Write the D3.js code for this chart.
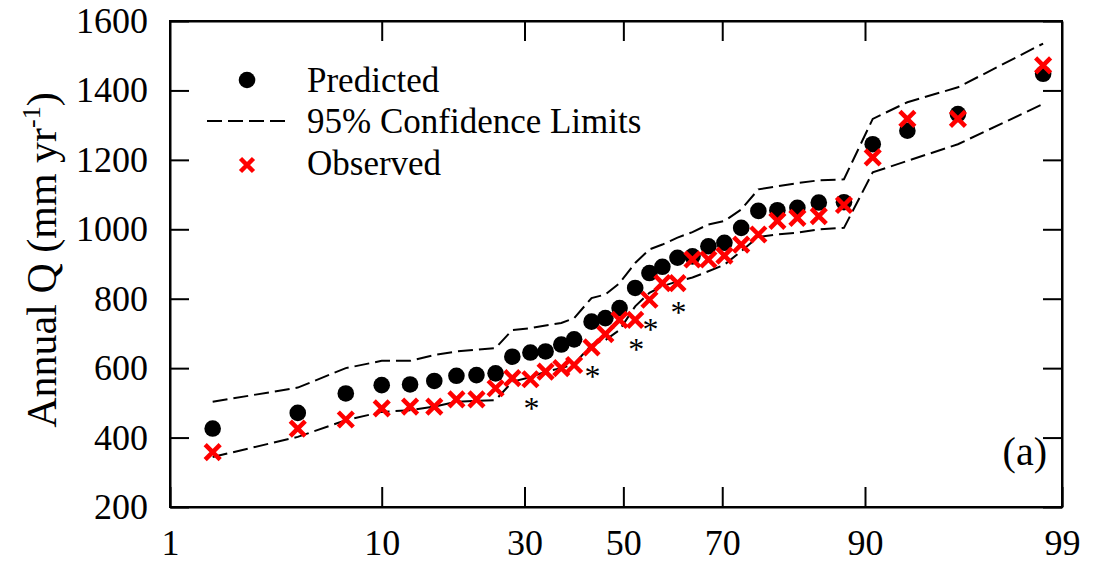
<!DOCTYPE html>
<html>
<head>
<meta charset="utf-8">
<script src="https://cdn.jsdelivr.net/npm/d3@7"></script>
<style>
  body { margin: 0; background: #fff; }
  svg { display: block; }
  text { font-family: "Liberation Serif", "Times New Roman", serif; fill: #000; }
</style>
</head>
<body>
<div id="chart"></div>
<script>
// exceedance probability (%) of each ranked year
const xPct = [1.47, 4.21, 7.05, 10.0, 12.9, 15.8, 18.8, 21.8, 24.9, 27.8,
              31.1, 34.0, 37.1, 39.7, 43.3, 46.2, 49.2, 52.5, 55.5, 58.2,
              61.3, 64.3, 67.4, 70.4, 73.4, 76.3, 79.3, 82.2, 85.0, 87.9,
              90.7, 93.4, 96.2, 98.7];
const predicted = [426, 471, 527, 551, 553, 563, 578, 580, 585, 633,
                   645, 648, 668, 683, 734, 744, 773, 831, 874, 892,
                   918, 922, 951, 961, 1004, 1053, 1055, 1062, 1077, 1078,
                   1245, 1284, 1332, 1448];
const observed = [358, 426, 452, 484, 489, 489, 510, 510, 542, 571,
                  568, 590, 600, 609, 660, 698, 739, 739, 797, 845,
                  845, 913, 913, 924, 956, 985, 1024, 1033, 1038, 1070,
                  1207, 1318, 1318, 1472];
const upperCL = [503, 544, 600, 621, 621, 638, 648, 653, 658, 710,
                 715, 723, 730, 744, 802, 812, 845, 903, 942, 956,
                 976, 992, 1014, 1024, 1057, 1115, 1124, 1133, 1141, 1144,
                 1318, 1366, 1409, 1535];
const lowerCL = [344, 402, 450, 474, 479, 489, 503, 506, 508, 561,
                 574, 590, 600, 612, 667, 681, 710, 778, 817, 836,
                 850, 861, 879, 898, 937, 978, 985, 990, 1000, 1004,
                 1164, 1197, 1245, 1361];
// ranks (1-based) marked with an asterisk
const flagged = [11, 15, 18, 19, 21];

const xDomainPct = [0.81, 99];
const xTickPct = [10, 30, 50, 70, 90];
const xTickLabels = ['1', '10', '30', '50', '70', '90', '99'];
const yDomain = [200, 1600];
const yTicks = [200, 400, 600, 800, 1000, 1200, 1400, 1600];
const legendItems = ['Predicted', '95% Confidence Limits', 'Observed'];

// inverse normal CDF (Acklam)
function probit(p) {
    const a = [-3.969683028665376e+01, 2.209460984245205e+02, -2.759285104469687e+02, 1.383577518672690e+02, -3.066479806614716e+01, 2.506628277459239e+00];
    const b = [-5.447609879822406e+01, 1.615858368580409e+02, -1.556989798598866e+02, 6.680131188771972e+01, -1.328068155288572e+01];
    const c = [-7.784894002430293e-03, -3.223964580411365e-01, -2.400758277161838e+00, -2.549732539343734e+00, 4.374664141464968e+00, 2.938163982698783e+00];
    const d = [7.784695709041462e-03, 3.224671290700398e-01, 2.445134137142996e+00, 3.754408661907416e+00];
    const pl = 0.02425;
    let q, r;
    if (p < pl) {
        q = Math.sqrt(-2 * Math.log(p));
        return (((((c[0]*q+c[1])*q+c[2])*q+c[3])*q+c[4])*q+c[5]) / ((((d[0]*q+d[1])*q+d[2])*q+d[3])*q+1);
    }
    if (p > 1 - pl) {
        q = Math.sqrt(-2 * Math.log(1 - p));
        return -(((((c[0]*q+c[1])*q+c[2])*q+c[3])*q+c[4])*q+c[5]) / ((((d[0]*q+d[1])*q+d[2])*q+d[3])*q+1);
    }
    q = p - 0.5;
    r = q * q;
    return (((((a[0]*r+a[1])*r+a[2])*r+a[3])*r+a[4])*r+a[5])*q / (((((b[0]*r+b[1])*r+b[2])*r+b[3])*r+b[4])*r+1);
}
const toZ = p => probit(p / 100);

const width = 1107;
const height = 566;
const margin = {top: 21, right: 45, bottom: 59, left: 170};

const svg = d3.select('#chart')
    .append('svg')
    .attr('width', width)
    .attr('height', height);

const x = d3.scaleLinear()
    .domain(xDomainPct.map(toZ))
    .range([margin.left, width - margin.right]);

const y = d3.scaleLinear()
    .domain(yDomain)
    .range([height - margin.bottom, margin.top]);

const px = i => x(toZ(xPct[i]));

// Axes (ticks point inward on all four sides)
const xTickZ = [x.domain()[0]].concat(xTickPct.map(toZ), [x.domain()[1]]);

svg.append('g')
    .attr('transform', `translate(0,${y.range()[0]})`)
    .call(d3.axisBottom(x)
        .tickValues(xTickZ)
        .tickFormat((d, i) => xTickLabels[i])
        .tickSizeInner(-20)
        .tickSizeOuter(0)
        .tickPadding(22))
    .call(g => g.selectAll('text').style('font-size', '36px'));

svg.append('g')
    .attr('transform', `translate(0,${y.range()[1]})`)
    .call(d3.axisTop(x)
        .tickValues(xTickPct.map(toZ))
        .tickFormat('')
        .tickSizeInner(-20)
        .tickSizeOuter(0));

svg.append('g')
    .attr('transform', `translate(${x.range()[0]},0)`)
    .call(d3.axisLeft(y)
        .tickValues(yTicks)
        .tickFormat(d3.format('d'))
        .tickSizeInner(-19)
        .tickSizeOuter(0)
        .tickPadding(22))
    .call(g => g.selectAll('text').style('font-size', '36px'));

svg.append('g')
    .attr('transform', `translate(${x.range()[1]},0)`)
    .call(d3.axisRight(y)
        .tickValues(yTicks)
        .tickFormat('')
        .tickSizeInner(-19)
        .tickSizeOuter(0));

svg.selectAll('.domain, .tick line')
    .attr('stroke', '#000')
    .attr('stroke-width', 2);

// frame
svg.append('rect')
    .attr('x', x.range()[0])
    .attr('y', y.range()[1])
    .attr('width', x.range()[1] - x.range()[0])
    .attr('height', y.range()[0] - y.range()[1])
    .attr('fill', 'none')
    .attr('stroke', '#000')
    .attr('stroke-width', 2);

// Confidence limits
const line = d3.line()
    .x((d, i) => px(i))
    .y(d => y(d));

[upperCL, lowerCL].forEach(function(series) {
    svg.append('path')
        .attr('d', line(series))
        .attr('fill', 'none')
        .attr('stroke', '#000')
        .attr('stroke-width', 2)
        .attr('stroke-dasharray', '15,6');
});

// Predicted
svg.append('g')
    .selectAll('circle')
    .data(predicted)
    .enter()
    .append('circle')
    .attr('cx', (d, i) => px(i))
    .attr('cy', d => y(d))
    .attr('r', 8.3)
    .attr('fill', '#000');

// Observed
const cross = 'M-7.5,-7.5L7.5,7.5M7.5,-7.5L-7.5,7.5';
svg.append('g')
    .selectAll('path')
    .data(observed)
    .enter()
    .append('path')
    .attr('transform', (d, i) => `translate(${px(i)},${y(d)})`)
    .attr('d', cross)
    .attr('stroke', '#ff0000')
    .attr('stroke-width', 4.5)
    .attr('fill', 'none');

// asterisks under flagged observations
svg.append('g')
    .selectAll('text')
    .data(flagged)
    .enter()
    .append('text')
    .attr('x', d => px(d - 1) + 1)
    .attr('y', d => y(observed[d - 1]) + 40)
    .attr('text-anchor', 'middle')
    .style('font-size', '32px')
    .text('*');

// Legend
const legend = svg.append('g');
const legendRows = [92, 133, 175];
legend.append('circle')
    .attr('cx', 247).attr('cy', legendRows[0] - 12)
    .attr('r', 8.3).attr('fill', '#000');
legend.append('line')
    .attr('x1', 207).attr('x2', 287)
    .attr('y1', legendRows[1] - 12).attr('y2', legendRows[1] - 12)
    .attr('stroke', '#000').attr('stroke-width', 2)
    .attr('stroke-dasharray', '15,6');
legend.append('path')
    .attr('transform', `translate(247,${legendRows[2] - 10})`)
    .attr('d', 'M-6.5,-6.5L6.5,6.5M6.5,-6.5L-6.5,6.5')
    .attr('stroke', '#ff0000').attr('stroke-width', 4.5).attr('fill', 'none');
legend.selectAll('text')
    .data(legendItems)
    .enter()
    .append('text')
    .attr('x', 307)
    .attr('y', (d, i) => legendRows[i])
    .style('font-size', '35px')
    .text(d => d);

// Y axis title
const yTitle = svg.append('text')
    .attr('transform', 'translate(56,260) rotate(-90)')
    .attr('text-anchor', 'middle')
    .style('font-size', '42px');
yTitle.append('tspan').text('Annual Q (mm yr');
yTitle.append('tspan').attr('dy', -16).style('font-size', '26px').text('-1');
yTitle.append('tspan').attr('dy', 16).text(')');

// panel label
svg.append('text')
    .attr('x', 1047)
    .attr('y', 465)
    .attr('text-anchor', 'end')
    .style('font-size', '40px')
    .text('(a)');
</script>
</body>
</html>
